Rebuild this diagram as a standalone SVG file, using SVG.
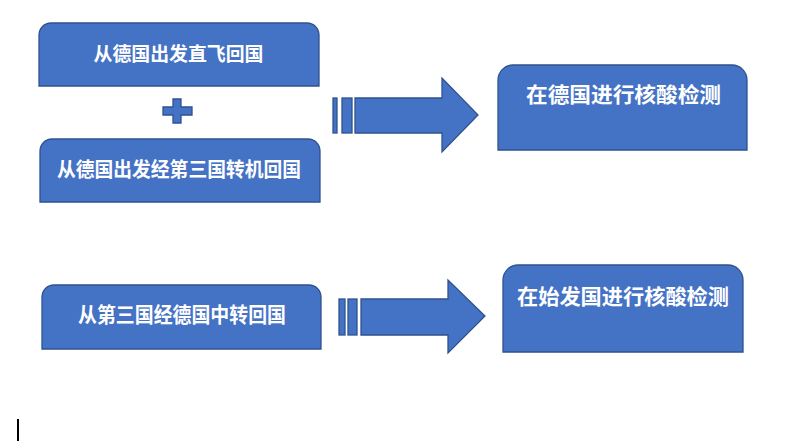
<svg xmlns="http://www.w3.org/2000/svg" width="802" height="442" viewBox="0 0 802 442">
<style>
.shape{fill:#4472C4;stroke:#2F528F;stroke-width:1.3}
.lbl{fill:#FFFFFF;font-family:"Noto Sans CJK SC","Microsoft YaHei",sans-serif;font-weight:bold;text-anchor:middle;dominant-baseline:central}
</style>
<rect width="802" height="442" fill="#FFFFFF"/>
<g id="node-direct">
<path class="shape" d="M39,86 V35 A12,12 0 0 1 51,23 H307 A12,12 0 0 1 319,35 V86 Z"/>
<text class="lbl" x="178.5" y="52" font-size="19" textLength="170" lengthAdjust="spacingAndGlyphs">从德国出发直飞回国</text>
</g>
<g id="plus">
<path class="shape" d="M173,99 H181 V107 H192 V115 H181 V123 H173 V115 H163 V107 H173 Z"/>
</g>
<g id="node-transfer">
<path class="shape" d="M40,202 V151 A12,12 0 0 1 52,139 H308 A12,12 0 0 1 320,151 V202 Z"/>
<text class="lbl" x="179" y="168" font-size="20" textLength="244" lengthAdjust="spacingAndGlyphs">从德国出发经第三国转机回国</text>
</g>
<g id="node-test-de">
<path class="shape" d="M498,150 V80 A15,15 0 0 1 513,65 H732 A15,15 0 0 1 747,80 V150 Z"/>
<text class="lbl" x="623.5" y="93" font-size="21" textLength="195" lengthAdjust="spacingAndGlyphs">在德国进行核酸检测</text>
</g>
<g id="node-third">
<path class="shape" d="M42,349 V297 A12,12 0 0 1 54,285 H309 A12,12 0 0 1 321,297 V349 Z"/>
<text class="lbl" x="182" y="313" font-size="21" textLength="208" lengthAdjust="spacingAndGlyphs">从第三国经德国中转回国</text>
</g>
<g id="node-test-origin">
<path class="shape" d="M503,352 V280 A15,15 0 0 1 518,265 H728 A15,15 0 0 1 743,280 V352 Z"/>
<text class="lbl" x="623" y="295" font-size="21" textLength="212" lengthAdjust="spacingAndGlyphs">在始发国进行核酸检测</text>
</g>
<g id="connectors">
<rect class="shape" x="333" y="98" width="4" height="35"/>
<rect class="shape" x="342" y="98" width="10" height="35"/>
<path class="shape" d="M355,98 H442 V78 L478,115 L442,152 V133 H355 Z"/>
<rect class="shape" x="339" y="299" width="6" height="36"/>
<rect class="shape" x="348" y="299" width="9" height="36"/>
<path class="shape" d="M361,299 H448 V280 L485,316 L448,353 V335 H361 Z"/>
</g>
<rect x="17" y="419" width="2" height="22" fill="#000000"/>
</svg>
